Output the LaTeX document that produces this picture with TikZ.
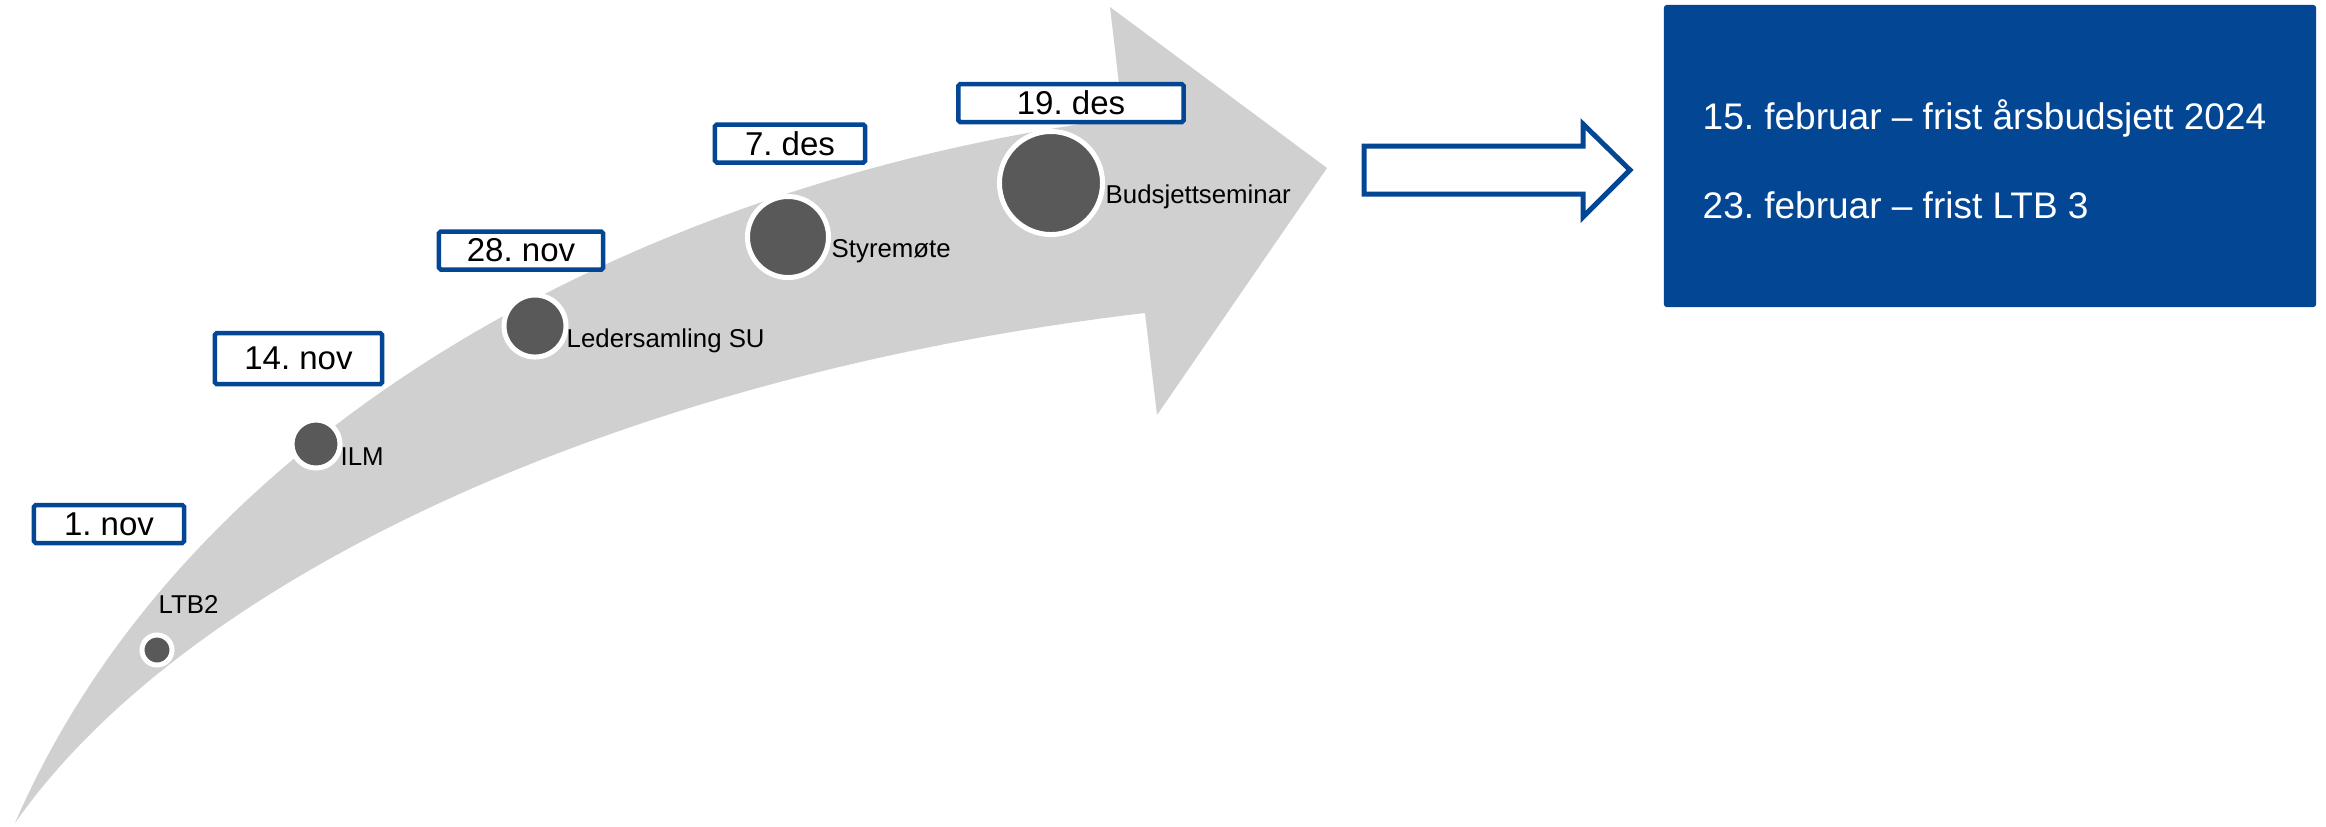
\documentclass[tikz,border=0pt]{standalone}
\usepackage{fontspec}
\setmainfont{Liberation Sans}
\definecolor{navy}{RGB}{3,71,148}
\definecolor{arrowgray}{RGB}{208,208,208}
\definecolor{dotgray}{RGB}{89,89,89}
\frenchspacing
\begin{document}
\begin{tikzpicture}[x=0.01cm,y=-0.01cm,
  datebox/.style={draw=navy, line width=0.045cm, fill=white, rounded corners=0.5pt, inner sep=0pt, text=black, font=\fontsize{9.39pt}{10pt}\selectfont},
  dot/.style={circle, fill=dotgray, draw=white, line width=0.05cm, inner sep=0pt},
  lbl/.style={anchor=base west, inner sep=0pt, text=black, font=\fontsize{7.34pt}{8pt}\selectfont},
  info/.style={anchor=base west, inner sep=0pt, text=white, font=\fontsize{10.52pt}{12pt}\selectfont},
  infobox/.style={fill=navy, draw=none, rounded corners=0.03cm, inner sep=0pt, minimum width=6.52cm, minimum height=3.02cm}]
\useasboundingbox (0,0) rectangle (2326,826);
% big curved gray arrow
\fill[arrowgray] (15,823) .. controls (190,420) and (650,180) .. (1123,118)
  -- (1110,7) -- (1327,168) -- (1157,415) -- (1145,313)
  .. controls (632,373) and (190,573) .. (15,823) -- cycle;
% milestone dots
\node[dot, minimum size=0.30cm] (d1) at (157,650) {};
\node[dot, minimum size=0.48cm] (d2) at (316,444) {};
\node[dot, minimum size=0.62cm] (d3) at (535,326) {};
\node[dot, minimum size=0.81cm] (d4) at (788,237) {};
\node[dot, minimum size=1.03cm] (d5) at (1051,183) {};
% labels
\node[lbl] (l1) at (158,613) {LTB2};
\node[lbl] (l2) at (340,465) {ILM};
\node[lbl] (l3) at (566,347) {Ledersamling SU};
\node[lbl] (l4) at (831,257) {Styremøte};
\node[lbl] (l5) at (1105,203) {Budsjettseminar};
% date boxes
\node[datebox, minimum width=1.50cm, minimum height=0.38cm] (b1) at (109,524) {1. nov};
\node[datebox, minimum width=1.67cm, minimum height=0.51cm] (b2) at (298.5,358.5) {14. nov};
\node[datebox, minimum width=1.64cm, minimum height=0.38cm] (b3) at (521,250.5) {28. nov};
\node[datebox, minimum width=1.50cm, minimum height=0.38cm] (b4) at (790,143.5) {7. des};
\node[datebox, minimum width=2.25cm, minimum height=0.38cm] (b5) at (1071,103) {19. des};
% hollow arrow
\draw[navy, line width=0.05cm, line join=miter, fill=white]
  (1364,146) -- (1583,146) -- (1583,124) -- (1630,170) -- (1583,217) -- (1583,194) -- (1364,194) -- cycle;
% info box
\node[infobox] (box) at (1990,156) {};
\node[info] (t1) at (1702,129) {15. februar – frist årsbudsjett 2024};
\node[info] (t2) at (1702,218) {23. februar – frist LTB 3};
\end{tikzpicture}
\end{document}
